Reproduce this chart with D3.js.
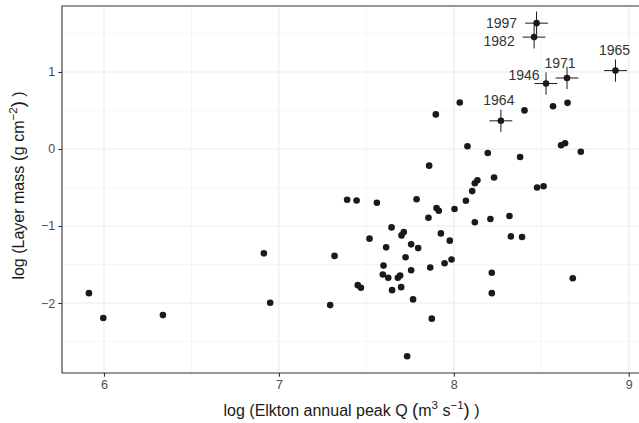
<!DOCTYPE html>
<html>
<head>
<meta charset="utf-8">
<script src="https://cdn.jsdelivr.net/npm/d3@7"></script>
<style>
  body { margin: 0; background: #fff; }
  svg { display: block; font-family: "Liberation Sans", Arial, sans-serif; }
</style>
</head>
<body>
<div id="chart"></div>
<script>
// Layer mass vs Elkton annual peak Q (log-log scatter)

const W = 639, H = 423
const MARGIN = { TOP: 6, LEFT: 62, BOTTOM: 50, RIGHT: -2 }

// data
const peakQ = [5.914, 5.996, 6.337, 6.914, 6.950, 7.293, 7.318, 7.390, 7.444, 7.451,
  7.469, 7.518, 7.560, 7.598, 7.594, 7.613, 7.625, 7.644, 7.647, 7.680,
  7.693, 7.699, 7.701, 7.714, 7.724, 7.733, 7.756, 7.756, 7.767, 7.787,
  7.796, 7.855, 7.859, 7.865, 7.874, 7.897, 7.901, 7.914, 7.926, 7.947,
  7.977, 7.987, 8.004, 8.034, 8.069, 8.078, 8.105, 8.120, 8.135, 8.120,
  8.194, 8.209, 8.217, 8.217, 8.230, 8.318, 8.326, 8.379, 8.390, 8.404,
  8.476, 8.513, 8.567, 8.613, 8.636, 8.650, 8.680, 8.726]
const layerMass = [-1.872, -2.195, -2.157, -1.354, -1.996, -2.027, -1.388, -0.660, -0.669, -1.768,
  -1.802, -1.164, -0.699, -1.514, -1.630, -1.277, -1.673, -1.018, -1.833, -1.673,
  -1.643, -1.794, -1.122, -1.078, -1.406, -2.691, -1.238, -1.574, -1.953, -0.653,
  -1.287, -0.893, -0.216, -1.539, -2.203, 0.449, -0.767, -0.802, -1.096, -1.484,
  -1.190, -1.436, -0.780, 0.604, -0.673, 0.035, -0.547, -0.444, -0.405, -0.951,
  -0.052, -0.909, -1.608, -1.872, -0.371, -0.871, -1.135, -0.103, -1.142, 0.501,
  -0.501, -0.483, 0.556, 0.048, 0.074, 0.599, -1.678, -0.035]

// labelled years with error bars
const years = ["1964", "1946", "1971", "1965", "1997", "1982"]
const yearQ = [8.269, 8.527, 8.647, 8.924, 8.473, 8.459]
const yearMass = [0.366, 0.850, 0.922, 1.018, 1.634, 1.453]
const qErr = [0.065, 0.065, 0.065, 0.066, 0.065, 0.065]
const massErr = [0.145, 0.145, 0.145, 0.145, 0.150, 0.148]

const xTicks = [6, 7, 8, 9]
const yTicks = [-2, -1, 0, 1]

// label placement (pixels, relative to the point)
const labelOffset = {
  "1964": [-2, -21], "1946": [-22, -9], "1971": [-7, -15],
  "1965": [-1, -21], "1997": [-35, 0], "1982": [-35, 4]
}

const x = d3.scaleLinear().domain([5.76, 9.07]).range([MARGIN.LEFT, W - MARGIN.RIGHT])
const y = d3.scaleLinear().domain([-2.909, 1.857]).range([H - MARGIN.BOTTOM, MARGIN.TOP])

const svg = d3.select("#chart").append("svg")
    .attr("width", W)
    .attr("height", H)

const x0 = x.range()[0], x1 = x.range()[1]
const y0 = y.range()[0], y1 = y.range()[1]

// grid: minor then major
const minorX = d3.range(5.5, 9.6, 1).filter(v => v > 5.76 && v < 9.07)
const minorY = d3.range(-2.5, 2, 1)
const grid = svg.append("g")
grid.selectAll(".mx").data(minorX).enter().append("line")
    .attr("x1", d => x(d)).attr("x2", d => x(d)).attr("y1", y0).attr("y2", y1)
    .attr("stroke", "#f0f0f0").attr("stroke-width", 0.6)
grid.selectAll(".my").data(minorY).enter().append("line")
    .attr("y1", d => y(d)).attr("y2", d => y(d)).attr("x1", x0).attr("x2", x1)
    .attr("stroke", "#f0f0f0").attr("stroke-width", 0.6)
grid.selectAll(".Mx").data(xTicks).enter().append("line")
    .attr("x1", d => x(d)).attr("x2", d => x(d)).attr("y1", y0).attr("y2", y1)
    .attr("stroke", "#ebebeb").attr("stroke-width", 1.1)
grid.selectAll(".My").data(yTicks).enter().append("line")
    .attr("y1", d => y(d)).attr("y2", d => y(d)).attr("x1", x0).attr("x2", x1)
    .attr("stroke", "#ebebeb").attr("stroke-width", 1.1)

// error bars
const eb = svg.append("g").attr("stroke", "#1a1a1a").attr("stroke-width", 1)
years.forEach((yr, i) => {
    eb.append("line")
        .attr("x1", x(yearQ[i] - qErr[i])).attr("x2", x(yearQ[i] + qErr[i]))
        .attr("y1", y(yearMass[i])).attr("y2", y(yearMass[i]))
    eb.append("line")
        .attr("x1", x(yearQ[i])).attr("x2", x(yearQ[i]))
        .attr("y1", y(yearMass[i] - massErr[i])).attr("y2", y(yearMass[i] + massErr[i]))
})

// points
const pts = peakQ.map((q, i) => [q, layerMass[i]])
    .concat(yearQ.map((q, i) => [q, yearMass[i]]))
svg.append("g").selectAll("circle").data(pts).enter().append("circle")
    .attr("cx", d => x(d[0]))
    .attr("cy", d => y(d[1]))
    .attr("r", 3.3)
    .attr("fill", "#1a1a1a")

// year labels
years.forEach((yr, i) => {
    svg.append("text")
        .attr("x", x(yearQ[i]) + labelOffset[yr][0])
        .attr("y", y(yearMass[i]) + labelOffset[yr][1])
        .attr("text-anchor", "middle")
        .attr("dominant-baseline", "central")
        .attr("font-size", "14px")
        .attr("fill", "#333")
        .text(yr)
})

// panel border (top, left, bottom; right side runs off the image)
svg.append("path")
    .attr("d", `M${x1},${y1}H${x0}V${y0}H${x1}`)
    .attr("fill", "none")
    .attr("stroke", "#333")
    .attr("stroke-width", 1.1)

// axes
const xAxis = svg.append("g")
    .attr("transform", `translate(0, ${y0})`)
    .call(d3.axisBottom(x).tickValues(xTicks).tickSize(3.7).tickPadding(3).tickFormat(d3.format("d")))
xAxis.select(".domain").remove()
xAxis.selectAll("line").attr("stroke", "#333").attr("stroke-width", 1.1)
xAxis.selectAll("text").attr("font-size", "12.5px").attr("fill", "#4d4d4d")
    .attr("font-family", "Liberation Sans, Arial, sans-serif")

const yAxis = svg.append("g")
    .attr("transform", `translate(${x0}, 0)`)
    .call(d3.axisLeft(y).tickValues(yTicks).tickSize(3.7).tickPadding(3)
        .tickFormat(d => d < 0 ? "\u2212" + Math.abs(d) : d))
yAxis.select(".domain").remove()
yAxis.selectAll("line").attr("stroke", "#333").attr("stroke-width", 1.1)
yAxis.selectAll("text").attr("font-size", "12.5px").attr("fill", "#4d4d4d")
    .attr("font-family", "Liberation Sans, Arial, sans-serif")

// axis titles with superscripts
const xTitle = svg.append("text")
    .attr("x", (x0 + x1) / 2)
    .attr("y", 416)
    .attr("text-anchor", "middle")
    .attr("font-size", "16px")
    .attr("fill", "#1a1a1a")
xTitle.append("tspan").text("log (Elkton annual peak Q ")
xTitle.append("tspan").attr("font-size", "18.5px").text("(")
xTitle.append("tspan").text("m")
xTitle.append("tspan").attr("font-size", "11.5px").attr("dy", -7).text("3")
xTitle.append("tspan").attr("dy", 7).text(" s")
xTitle.append("tspan").attr("font-size", "11.5px").attr("dy", -7).text("\u22121")
xTitle.append("tspan").attr("font-size", "18.5px").attr("dy", 7).text(")")
xTitle.append("tspan").text(" )")

const yTitle = svg.append("text")
    .attr("transform", `translate(24, ${(y0 + y1) / 2 - 4}) rotate(-90)`)
    .attr("text-anchor", "middle")
    .attr("font-size", "16px")
    .attr("fill", "#1a1a1a")
yTitle.append("tspan").text("log (Layer mass ")
yTitle.append("tspan").attr("font-size", "18.5px").text("(")
yTitle.append("tspan").text("g cm")
yTitle.append("tspan").attr("font-size", "11.5px").attr("dy", -7).text("\u22122")
yTitle.append("tspan").attr("font-size", "18.5px").attr("dy", 7).text(")")
yTitle.append("tspan").text(" )")
</script>
</body>
</html>
